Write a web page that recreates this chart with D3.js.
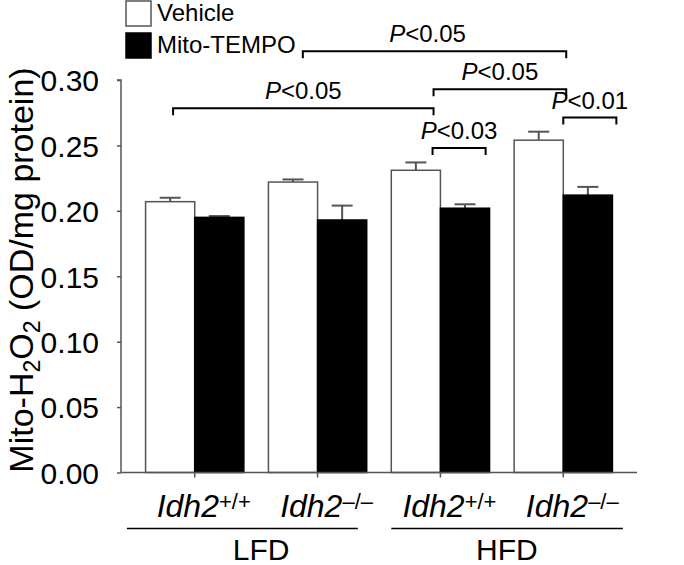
<!DOCTYPE html>
<html>
<head>
<meta charset="utf-8">
<script src="https://cdn.jsdelivr.net/npm/d3@7"></script>
<style>
  body { margin:0; background:#fff; }
  svg { font-family: "Liberation Sans", Arial, Helvetica, sans-serif; }
</style>
</head>
<body>
<div class="canvas"></div>
<script>
var W = 684, H = 565;

// data
var genotypes = ['+/+', '\u2013/\u2013', '+/+', '\u2013/\u2013'];
var groups = ['LFD +/+', 'LFD -/-', 'HFD +/+', 'HFD -/-'];
var diets = ['LFD', 'HFD'];
var treatments = ['Vehicle', 'Mito-TEMPO'];
var vehicle = [0.207, 0.222, 0.231, 0.254];
var vehicleErr = [0.003, 0.002, 0.006, 0.0065];
var tempo = [0.195, 0.193, 0.202, 0.212];
var tempoErr = [0.001, 0.011, 0.003, 0.0063];
var yTicks = [0, 0.05, 0.10, 0.15, 0.20, 0.25, 0.30];

// significance brackets: [group, frac, group, frac, y value, label]
var brackets = [
    [1, 0.35, 3, 0.53, 0.322, 'P', '<0.05'],
    [0, 0.28, 2, 0.43, 0.2785, 'P', '<0.05'],
    [2, 0.43, 3, 0.53, 0.293, 'P', '<0.05'],
    [2, 0.42, 2, 0.96, 0.2481, 'P', '<0.03'],
    [3, 0.50, 3, 1.04, 0.2713, 'P', '<0.01']
];

var svg = d3.select('.canvas').append('svg')
    .attr('width', W).attr('height', H);

var x = d3.scaleBand().domain(groups).range([121, 637]).paddingInner(0.2).paddingOuter(0.2);
var xs = d3.scaleBand().domain(treatments).range([0, x.bandwidth()]);
var y = d3.scaleLinear().domain([0, 0.30]).range([472.5, 80]);

var axisColor = '#555';

// bars
var rows = groups.map(function(g, i){
    return [
        {g:g, t:'Vehicle', v:vehicle[i], e:vehicleErr[i]},
        {g:g, t:'Mito-TEMPO', v:tempo[i], e:tempoErr[i]}
    ];
});
var flat = [].concat.apply([], rows);

svg.selectAll('line.err').data(flat).enter().append('line')
    .attr('class','err')
    .attr('x1', function(d){ return x(d.g)+xs(d.t)+xs.bandwidth()/2; })
    .attr('x2', function(d){ return x(d.g)+xs(d.t)+xs.bandwidth()/2; })
    .attr('y1', function(d){ return y(d.v); })
    .attr('y2', function(d){ return y(d.v+d.e); })
    .style('stroke', axisColor).style('stroke-width', 2);

svg.selectAll('line.cap').data(flat).enter().append('line')
    .attr('class','cap')
    .attr('x1', function(d){ return x(d.g)+xs(d.t)+xs.bandwidth()/2-10.5; })
    .attr('x2', function(d){ return x(d.g)+xs(d.t)+xs.bandwidth()/2+10.5; })
    .attr('y1', function(d){ return y(d.v+d.e); })
    .attr('y2', function(d){ return y(d.v+d.e); })
    .style('stroke', axisColor).style('stroke-width', 2);

svg.selectAll('rect.bar').data(flat).enter().append('rect')
    .attr('class','bar')
    .attr('x', function(d){ return x(d.g)+xs(d.t); })
    .attr('y', function(d){ return y(d.v); })
    .attr('width', xs.bandwidth())
    .attr('height', function(d){ return y(0)-y(d.v); })
    .style('fill', function(d){ return d.t=='Vehicle' ? '#fff' : '#000'; })
    .style('stroke', function(d){ return d.t=='Vehicle' ? axisColor : '#000'; })
    .style('stroke-width', 1.5);

// y axis
var yAxis = svg.append('g')
    .attr('transform','translate(121,0)')
    .call(d3.axisLeft(y).tickValues(yTicks).tickFormat(d3.format('.2f')).tickSize(4).tickPadding(18));
yAxis.attr('font-size', 30).attr('font-family', null);
yAxis.select('.domain').attr('d', 'M-4,'+y(0.30)+'H0V'+y(0)).style('stroke', axisColor).style('stroke-width', 1.5);
yAxis.selectAll('.tick line').style('stroke', axisColor).style('stroke-width', 1.5);
yAxis.selectAll('.tick text').style('fill','#000').attr('dy','0.36em');

// x axis
var xAxis = svg.append('g')
    .attr('transform','translate(0,'+y(0)+')')
    .call(d3.axisBottom(x).tickSize(5).tickFormat(''));
xAxis.select('.domain').attr('d','M121,0H637').style('stroke', axisColor).style('stroke-width', 1.5);
xAxis.selectAll('.tick line').style('stroke', axisColor).style('stroke-width', 1.5);

// genotype labels
var gl = svg.selectAll('text.geno').data(groups).enter().append('text')
    .attr('class','geno')
    .attr('x', function(d){ return x(d)+x.bandwidth()/2+9; })
    .attr('y', 517)
    .attr('text-anchor','middle')
    .style('font-size','32px');
gl.append('tspan').style('font-style','italic').text('Idh2');
gl.append('tspan').attr('dy', -8).style('font-size','22px').text(function(d,i){ return genotypes[i]; });

// diet lines + labels
var dietSpan = [[0, -0.19, 1, 0.91], [2, 0.0, 3, 1.106]];
diets.forEach(function(dname, i){
    var s = dietSpan[i];
    var x1 = x(groups[s[0]]) + s[1]*x.bandwidth();
    var x2 = x(groups[s[2]]) + s[3]*x.bandwidth();
    svg.append('line').attr('x1', x1).attr('x2', x2).attr('y1', 528.5).attr('y2', 528.5)
        .style('stroke','#000').style('stroke-width', 1.5);
    svg.append('text').attr('x', (x(groups[s[0]]) + x(groups[s[2]]) + x.bandwidth())/2 + 5)
        .attr('y', 560).attr('text-anchor','middle').style('font-size','30px').text(dname);
});

// y label
var yl = svg.append('text')
    .attr('transform','translate(33,270) rotate(-90)')
    .attr('text-anchor','middle')
    .style('font-size','34px');
yl.append('tspan').text('Mito-H');
yl.append('tspan').attr('dy', 7).style('font-size','23px').text('2');
yl.append('tspan').attr('dy', -7).text('O');
yl.append('tspan').attr('dy', 7).style('font-size','23px').text('2');
yl.append('tspan').attr('dy', -7).text(' (OD/mg protein)');

// brackets
brackets.forEach(function(b, i){
    var x1 = x(groups[b[0]]) + b[1]*x.bandwidth();
    var x2 = x(groups[b[2]]) + b[3]*x.bandwidth();
    var yy = y(b[4]);
    svg.append('path')
        .attr('d', 'M'+x1+','+(yy+7)+'V'+yy+'H'+x2+'V'+(yy+7))
        .style('fill','none').style('stroke','#000').style('stroke-width', 2);
    var t = svg.append('text')
        .attr('x', (x1+x2)/2 + (i==0 ? -7 : 0))
        .attr('y', yy-9)
        .attr('text-anchor','middle')
        .style('font-size','24px');
    t.append('tspan').style('font-style','italic').text(b[5]);
    t.append('tspan').text(b[6]);
});

// legend
var lg = svg.selectAll('g.leg').data(treatments).enter().append('g')
    .attr('class','leg')
    .attr('transform', function(d,i){ return 'translate(126,'+(1+i*32)+')'; });
lg.append('rect').attr('width', 25).attr('height', 25)
    .style('fill', function(d,i){ return i==0 ? '#fff' : '#000'; })
    .style('stroke', function(d,i){ return i==0 ? axisColor : '#000'; })
    .style('stroke-width', 1.5);
lg.append('text').attr('x', 31).attr('y', 20).style('font-size','24px').text(function(d){ return d; });
</script>
</body>
</html>
